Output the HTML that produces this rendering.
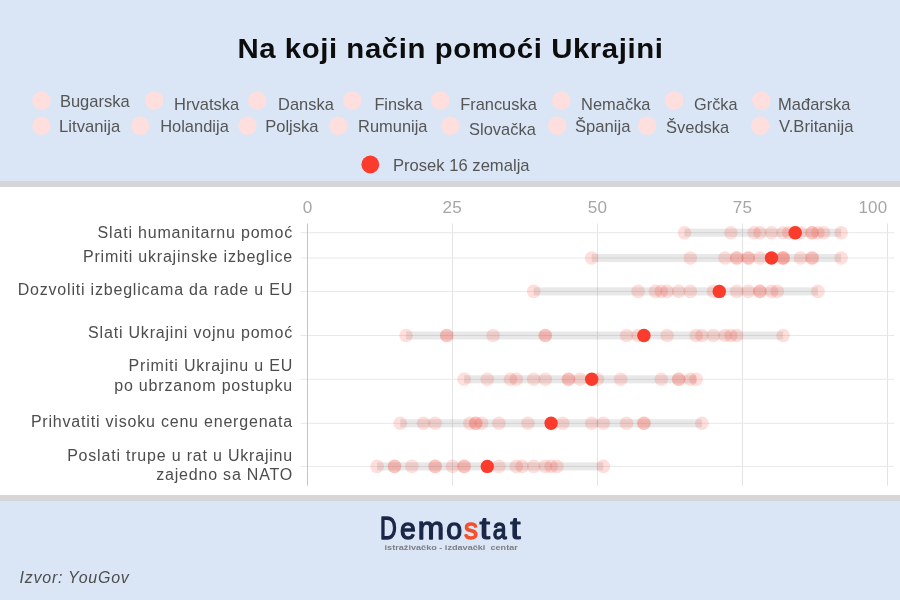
<!DOCTYPE html>
<html lang="sr"><head><meta charset="utf-8"><title>Na koji način pomoći Ukrajini</title>
<style>
html,body{margin:0;padding:0;background:#dae6f5;}
body{width:900px;height:600px;overflow:hidden;font-family:"Liberation Sans",sans-serif;}
svg{display:block}
text{font-family:"Liberation Sans",sans-serif;}
.lg{font-size:16.4px;fill:#555;}
.yl{font-size:16px;fill:#4d4d4d;letter-spacing:0.8px;text-anchor:end;}
.tk{font-size:16px;fill:#a6a6a6;text-anchor:middle;letter-spacing:0.3px;}
</style></head><body>
<svg width="900" height="600" viewBox="0 0 900 600">
<rect x="0" y="0" width="900" height="600" fill="#dae6f5"/>
<rect x="0" y="181" width="900" height="320" fill="#d6d6d6"/>
<rect x="0" y="187" width="900" height="308" fill="#ffffff"/>
<text transform="translate(237.4,58) scale(1.049,1)" font-size="28" font-weight="bold" fill="#0d0d0d" letter-spacing="0.54">Na koji način pomoći Ukrajini</text>
<circle cx="41.5" cy="100.5" r="9.2" fill="#fedfdd"/><text class="lg" x="59.9" y="107" textLength="69.8" lengthAdjust="spacingAndGlyphs">Bugarska</text>
<circle cx="154.2" cy="100.5" r="9.2" fill="#fedfdd"/><text class="lg" x="174.1" y="110" textLength="65.1" lengthAdjust="spacingAndGlyphs">Hrvatska</text>
<circle cx="257.3" cy="100.5" r="9.2" fill="#fedfdd"/><text class="lg" x="278.1" y="110" textLength="55.7" lengthAdjust="spacingAndGlyphs">Danska</text>
<circle cx="352.3" cy="100.5" r="9.2" fill="#fedfdd"/><text class="lg" x="374.4" y="110" textLength="48.1" lengthAdjust="spacingAndGlyphs">Finska</text>
<circle cx="440.3" cy="100.5" r="9.2" fill="#fedfdd"/><text class="lg" x="460.2" y="110" textLength="76.6" lengthAdjust="spacingAndGlyphs">Francuska</text>
<circle cx="561.3" cy="100.5" r="9.2" fill="#fedfdd"/><text class="lg" x="581.1" y="110" textLength="69.4" lengthAdjust="spacingAndGlyphs">Nemačka</text>
<circle cx="674.2" cy="100.5" r="9.2" fill="#fedfdd"/><text class="lg" x="694.1" y="110" textLength="43.4" lengthAdjust="spacingAndGlyphs">Grčka</text>
<circle cx="761.3" cy="100.5" r="9.2" fill="#fedfdd"/><text class="lg" x="778.1" y="110" textLength="72.4" lengthAdjust="spacingAndGlyphs">Mađarska</text>
<circle cx="41.5" cy="125.7" r="9.2" fill="#fedfdd"/><text class="lg" x="59.1" y="132" textLength="61.1" lengthAdjust="spacingAndGlyphs">Litvanija</text>
<circle cx="140.2" cy="125.7" r="9.2" fill="#fedfdd"/><text class="lg" x="160.2" y="132" textLength="68.6" lengthAdjust="spacingAndGlyphs">Holandija</text>
<circle cx="247.5" cy="125.7" r="9.2" fill="#fedfdd"/><text class="lg" x="265.2" y="132" textLength="53.3" lengthAdjust="spacingAndGlyphs">Poljska</text>
<circle cx="338.3" cy="125.7" r="9.2" fill="#fedfdd"/><text class="lg" x="358.1" y="132" textLength="69.4" lengthAdjust="spacingAndGlyphs">Rumunija</text>
<circle cx="450.3" cy="125.7" r="9.2" fill="#fedfdd"/><text class="lg" x="469.1" y="135" textLength="66.7" lengthAdjust="spacingAndGlyphs">Slovačka</text>
<circle cx="557.2" cy="125.7" r="9.2" fill="#fedfdd"/><text class="lg" x="574.9" y="132" textLength="55.6" lengthAdjust="spacingAndGlyphs">Španija</text>
<circle cx="647.2" cy="125.7" r="9.2" fill="#fedfdd"/><text class="lg" x="666.1" y="133" textLength="63.1" lengthAdjust="spacingAndGlyphs">Švedska</text>
<circle cx="760.3" cy="125.7" r="9.2" fill="#fedfdd"/><text class="lg" x="779.1" y="132" textLength="74.4" lengthAdjust="spacingAndGlyphs">V.Britanija</text>
<circle cx="370.3" cy="164.5" r="8.9" fill="#fb3b2b"/><text class="lg" x="392.9" y="171" textLength="136.7" lengthAdjust="spacingAndGlyphs">Prosek 16 zemalja</text>
<line x1="452.5" x2="452.5" y1="223.5" y2="485.7" stroke="#e4e4e4" stroke-width="1"/><line x1="597.5" x2="597.5" y1="223.5" y2="485.7" stroke="#e4e4e4" stroke-width="1"/><line x1="742.5" x2="742.5" y1="223.5" y2="485.7" stroke="#e4e4e4" stroke-width="1"/><line x1="887.5" x2="887.5" y1="223.5" y2="485.7" stroke="#e4e4e4" stroke-width="1"/><line x1="300.5" x2="894" y1="232.7" y2="232.7" stroke="#e8e8e8" stroke-width="1"/><line x1="300.5" x2="894" y1="258" y2="258" stroke="#e8e8e8" stroke-width="1"/><line x1="300.5" x2="894" y1="291.4" y2="291.4" stroke="#e8e8e8" stroke-width="1"/><line x1="300.5" x2="894" y1="335.5" y2="335.5" stroke="#e8e8e8" stroke-width="1"/><line x1="300.5" x2="894" y1="379.3" y2="379.3" stroke="#e8e8e8" stroke-width="1"/><line x1="300.5" x2="894" y1="423.3" y2="423.3" stroke="#e8e8e8" stroke-width="1"/><line x1="300.5" x2="894" y1="466.4" y2="466.4" stroke="#e8e8e8" stroke-width="1"/><line x1="307.5" x2="307.5" y1="223.5" y2="485.7" stroke="#c4c4c4" stroke-width="1"/>
<text class="tk" transform="translate(307.7,212.6) scale(1.07,1)">0</text><text class="tk" transform="translate(452.3,212.6) scale(1.07,1)">25</text><text class="tk" transform="translate(597.5,212.6) scale(1.07,1)">50</text><text class="tk" transform="translate(742.5,212.6) scale(1.07,1)">75</text><text class="tk" transform="translate(887.6,212.6) scale(1.06,1)" style="text-anchor:end">100</text>
<text class="yl" x="293.0" y="238">Slati humanitarnu pomoć</text>
<text class="yl" x="293.0" y="262">Primiti ukrajinske izbeglice</text>
<text class="yl" x="293.0" y="295">Dozvoliti izbeglicama da rade u EU</text>
<text class="yl" x="293.0" y="338">Slati Ukrajini vojnu pomoć</text>
<text class="yl" x="293.0" y="371">Primiti Ukrajinu u EU</text>
<text class="yl" x="293.0" y="391">po ubrzanom postupku</text>
<text class="yl" x="293.0" y="427">Prihvatiti visoku cenu energenata</text>
<text class="yl" x="293.0" y="461">Poslati trupe u rat u Ukrajinu</text>
<text class="yl" x="293.0" y="480">zajedno sa NATO</text>
<rect x="684.5" y="228.65" width="156.6" height="8.1" fill="#000" fill-opacity="0.09"/><circle cx="684.5" cy="232.7" r="6.8" fill="#f83c28" fill-opacity="0.165"/><circle cx="730.9" cy="232.7" r="6.8" fill="#f83c28" fill-opacity="0.165"/><circle cx="754.1" cy="232.7" r="6.8" fill="#f83c28" fill-opacity="0.165"/><circle cx="759.9" cy="232.7" r="6.8" fill="#f83c28" fill-opacity="0.165"/><circle cx="771.5" cy="232.7" r="6.8" fill="#f83c28" fill-opacity="0.165"/><circle cx="783.1" cy="232.7" r="6.8" fill="#f83c28" fill-opacity="0.165"/><circle cx="788.9" cy="232.7" r="6.8" fill="#f83c28" fill-opacity="0.165"/><circle cx="794.7" cy="232.7" r="6.8" fill="#f83c28" fill-opacity="0.165"/><circle cx="794.7" cy="232.7" r="6.8" fill="#f83c28" fill-opacity="0.165"/><circle cx="800.5" cy="232.7" r="6.8" fill="#f83c28" fill-opacity="0.165"/><circle cx="812.1" cy="232.7" r="6.8" fill="#f83c28" fill-opacity="0.165"/><circle cx="812.1" cy="232.7" r="6.8" fill="#f83c28" fill-opacity="0.165"/><circle cx="817.9" cy="232.7" r="6.8" fill="#f83c28" fill-opacity="0.165"/><circle cx="823.7" cy="232.7" r="6.8" fill="#f83c28" fill-opacity="0.165"/><circle cx="841.1" cy="232.7" r="6.8" fill="#f83c28" fill-opacity="0.165"/><circle cx="795.3" cy="232.7" r="6.7" fill="#fb3b2b"/>
<rect x="591.7" y="253.95" width="249.4" height="8.1" fill="#000" fill-opacity="0.09"/><circle cx="591.7" cy="258" r="6.8" fill="#f83c28" fill-opacity="0.165"/><circle cx="690.3" cy="258" r="6.8" fill="#f83c28" fill-opacity="0.165"/><circle cx="725.1" cy="258" r="6.8" fill="#f83c28" fill-opacity="0.165"/><circle cx="736.7" cy="258" r="6.8" fill="#f83c28" fill-opacity="0.165"/><circle cx="736.7" cy="258" r="6.8" fill="#f83c28" fill-opacity="0.165"/><circle cx="748.3" cy="258" r="6.8" fill="#f83c28" fill-opacity="0.165"/><circle cx="748.3" cy="258" r="6.8" fill="#f83c28" fill-opacity="0.165"/><circle cx="759.9" cy="258" r="6.8" fill="#f83c28" fill-opacity="0.165"/><circle cx="783.1" cy="258" r="6.8" fill="#f83c28" fill-opacity="0.165"/><circle cx="783.1" cy="258" r="6.8" fill="#f83c28" fill-opacity="0.165"/><circle cx="783.1" cy="258" r="6.8" fill="#f83c28" fill-opacity="0.165"/><circle cx="800.5" cy="258" r="6.8" fill="#f83c28" fill-opacity="0.165"/><circle cx="812.1" cy="258" r="6.8" fill="#f83c28" fill-opacity="0.165"/><circle cx="812.1" cy="258" r="6.8" fill="#f83c28" fill-opacity="0.165"/><circle cx="841.1" cy="258" r="6.8" fill="#f83c28" fill-opacity="0.165"/><circle cx="771.5" cy="258" r="6.7" fill="#fb3b2b"/>
<rect x="533.7" y="287.35" width="284.2" height="8.1" fill="#000" fill-opacity="0.09"/><circle cx="533.7" cy="291.4" r="6.8" fill="#f83c28" fill-opacity="0.165"/><circle cx="638.1" cy="291.4" r="6.8" fill="#f83c28" fill-opacity="0.165"/><circle cx="655.5" cy="291.4" r="6.8" fill="#f83c28" fill-opacity="0.165"/><circle cx="661.3" cy="291.4" r="6.8" fill="#f83c28" fill-opacity="0.165"/><circle cx="667.1" cy="291.4" r="6.8" fill="#f83c28" fill-opacity="0.165"/><circle cx="678.7" cy="291.4" r="6.8" fill="#f83c28" fill-opacity="0.165"/><circle cx="690.3" cy="291.4" r="6.8" fill="#f83c28" fill-opacity="0.165"/><circle cx="713.5" cy="291.4" r="6.8" fill="#f83c28" fill-opacity="0.165"/><circle cx="719.3" cy="291.4" r="6.8" fill="#f83c28" fill-opacity="0.165"/><circle cx="736.7" cy="291.4" r="6.8" fill="#f83c28" fill-opacity="0.165"/><circle cx="748.3" cy="291.4" r="6.8" fill="#f83c28" fill-opacity="0.165"/><circle cx="759.9" cy="291.4" r="6.8" fill="#f83c28" fill-opacity="0.165"/><circle cx="759.9" cy="291.4" r="6.8" fill="#f83c28" fill-opacity="0.165"/><circle cx="771.5" cy="291.4" r="6.8" fill="#f83c28" fill-opacity="0.165"/><circle cx="777.3" cy="291.4" r="6.8" fill="#f83c28" fill-opacity="0.165"/><circle cx="817.9" cy="291.4" r="6.8" fill="#f83c28" fill-opacity="0.165"/><circle cx="719.3" cy="291.4" r="6.7" fill="#fb3b2b"/>
<rect x="406.1" y="331.45" width="377.0" height="8.1" fill="#000" fill-opacity="0.09"/><circle cx="406.1" cy="335.5" r="6.8" fill="#f83c28" fill-opacity="0.165"/><circle cx="446.7" cy="335.5" r="6.8" fill="#f83c28" fill-opacity="0.165"/><circle cx="446.7" cy="335.5" r="6.8" fill="#f83c28" fill-opacity="0.165"/><circle cx="493.1" cy="335.5" r="6.8" fill="#f83c28" fill-opacity="0.165"/><circle cx="545.3" cy="335.5" r="6.8" fill="#f83c28" fill-opacity="0.165"/><circle cx="545.3" cy="335.5" r="6.8" fill="#f83c28" fill-opacity="0.165"/><circle cx="626.5" cy="335.5" r="6.8" fill="#f83c28" fill-opacity="0.165"/><circle cx="638.1" cy="335.5" r="6.8" fill="#f83c28" fill-opacity="0.165"/><circle cx="643.9" cy="335.5" r="6.8" fill="#f83c28" fill-opacity="0.165"/><circle cx="667.1" cy="335.5" r="6.8" fill="#f83c28" fill-opacity="0.165"/><circle cx="696.1" cy="335.5" r="6.8" fill="#f83c28" fill-opacity="0.165"/><circle cx="701.9" cy="335.5" r="6.8" fill="#f83c28" fill-opacity="0.165"/><circle cx="713.5" cy="335.5" r="6.8" fill="#f83c28" fill-opacity="0.165"/><circle cx="725.1" cy="335.5" r="6.8" fill="#f83c28" fill-opacity="0.165"/><circle cx="730.9" cy="335.5" r="6.8" fill="#f83c28" fill-opacity="0.165"/><circle cx="736.7" cy="335.5" r="6.8" fill="#f83c28" fill-opacity="0.165"/><circle cx="783.1" cy="335.5" r="6.8" fill="#f83c28" fill-opacity="0.165"/><circle cx="643.9" cy="335.5" r="6.7" fill="#fb3b2b"/>
<rect x="464.1" y="375.25" width="232.0" height="8.1" fill="#000" fill-opacity="0.09"/><circle cx="464.1" cy="379.3" r="6.8" fill="#f83c28" fill-opacity="0.165"/><circle cx="487.3" cy="379.3" r="6.8" fill="#f83c28" fill-opacity="0.165"/><circle cx="510.5" cy="379.3" r="6.8" fill="#f83c28" fill-opacity="0.165"/><circle cx="516.3" cy="379.3" r="6.8" fill="#f83c28" fill-opacity="0.165"/><circle cx="533.7" cy="379.3" r="6.8" fill="#f83c28" fill-opacity="0.165"/><circle cx="545.3" cy="379.3" r="6.8" fill="#f83c28" fill-opacity="0.165"/><circle cx="568.5" cy="379.3" r="6.8" fill="#f83c28" fill-opacity="0.165"/><circle cx="568.5" cy="379.3" r="6.8" fill="#f83c28" fill-opacity="0.165"/><circle cx="580.1" cy="379.3" r="6.8" fill="#f83c28" fill-opacity="0.165"/><circle cx="597.5" cy="379.3" r="6.8" fill="#f83c28" fill-opacity="0.165"/><circle cx="620.7" cy="379.3" r="6.8" fill="#f83c28" fill-opacity="0.165"/><circle cx="661.3" cy="379.3" r="6.8" fill="#f83c28" fill-opacity="0.165"/><circle cx="678.7" cy="379.3" r="6.8" fill="#f83c28" fill-opacity="0.165"/><circle cx="678.7" cy="379.3" r="6.8" fill="#f83c28" fill-opacity="0.165"/><circle cx="690.3" cy="379.3" r="6.8" fill="#f83c28" fill-opacity="0.165"/><circle cx="696.1" cy="379.3" r="6.8" fill="#f83c28" fill-opacity="0.165"/><circle cx="591.7" cy="379.3" r="6.7" fill="#fb3b2b"/>
<rect x="400.3" y="419.25" width="301.6" height="8.1" fill="#000" fill-opacity="0.09"/><circle cx="400.3" cy="423.3" r="6.8" fill="#f83c28" fill-opacity="0.165"/><circle cx="423.5" cy="423.3" r="6.8" fill="#f83c28" fill-opacity="0.165"/><circle cx="435.1" cy="423.3" r="6.8" fill="#f83c28" fill-opacity="0.165"/><circle cx="469.9" cy="423.3" r="6.8" fill="#f83c28" fill-opacity="0.165"/><circle cx="475.7" cy="423.3" r="6.8" fill="#f83c28" fill-opacity="0.165"/><circle cx="475.7" cy="423.3" r="6.8" fill="#f83c28" fill-opacity="0.165"/><circle cx="481.5" cy="423.3" r="6.8" fill="#f83c28" fill-opacity="0.165"/><circle cx="498.9" cy="423.3" r="6.8" fill="#f83c28" fill-opacity="0.165"/><circle cx="527.9" cy="423.3" r="6.8" fill="#f83c28" fill-opacity="0.165"/><circle cx="562.7" cy="423.3" r="6.8" fill="#f83c28" fill-opacity="0.165"/><circle cx="591.7" cy="423.3" r="6.8" fill="#f83c28" fill-opacity="0.165"/><circle cx="603.3" cy="423.3" r="6.8" fill="#f83c28" fill-opacity="0.165"/><circle cx="626.5" cy="423.3" r="6.8" fill="#f83c28" fill-opacity="0.165"/><circle cx="643.9" cy="423.3" r="6.8" fill="#f83c28" fill-opacity="0.165"/><circle cx="643.9" cy="423.3" r="6.8" fill="#f83c28" fill-opacity="0.165"/><circle cx="701.9" cy="423.3" r="6.8" fill="#f83c28" fill-opacity="0.165"/><circle cx="551.1" cy="423.3" r="6.7" fill="#fb3b2b"/>
<rect x="377.1" y="462.35" width="226.2" height="8.1" fill="#000" fill-opacity="0.09"/><circle cx="377.1" cy="466.4" r="6.8" fill="#f83c28" fill-opacity="0.165"/><circle cx="394.5" cy="466.4" r="6.8" fill="#f83c28" fill-opacity="0.165"/><circle cx="394.5" cy="466.4" r="6.8" fill="#f83c28" fill-opacity="0.165"/><circle cx="411.9" cy="466.4" r="6.8" fill="#f83c28" fill-opacity="0.165"/><circle cx="435.1" cy="466.4" r="6.8" fill="#f83c28" fill-opacity="0.165"/><circle cx="435.1" cy="466.4" r="6.8" fill="#f83c28" fill-opacity="0.165"/><circle cx="452.5" cy="466.4" r="6.8" fill="#f83c28" fill-opacity="0.165"/><circle cx="464.1" cy="466.4" r="6.8" fill="#f83c28" fill-opacity="0.165"/><circle cx="464.1" cy="466.4" r="6.8" fill="#f83c28" fill-opacity="0.165"/><circle cx="498.9" cy="466.4" r="6.8" fill="#f83c28" fill-opacity="0.165"/><circle cx="516.3" cy="466.4" r="6.8" fill="#f83c28" fill-opacity="0.165"/><circle cx="522.1" cy="466.4" r="6.8" fill="#f83c28" fill-opacity="0.165"/><circle cx="533.7" cy="466.4" r="6.8" fill="#f83c28" fill-opacity="0.165"/><circle cx="545.3" cy="466.4" r="6.8" fill="#f83c28" fill-opacity="0.165"/><circle cx="551.1" cy="466.4" r="6.8" fill="#f83c28" fill-opacity="0.165"/><circle cx="556.9" cy="466.4" r="6.8" fill="#f83c28" fill-opacity="0.165"/><circle cx="603.3" cy="466.4" r="6.8" fill="#f83c28" fill-opacity="0.165"/><circle cx="487.3" cy="466.4" r="6.7" fill="#fb3b2b"/>
<g aria-label="Demostat" font-size="100" stroke-width="1.3" stroke-linejoin="round"><text transform="matrix(0.2317 0 0 0.3130 380.00 539.35)" fill="#1a2747" stroke="#1a2747" vector-effect="non-scaling-stroke">D</text><text transform="matrix(0.2833 0 0 0.3036 399.92 539.25)" fill="#1a2747" stroke="#1a2747" vector-effect="non-scaling-stroke">e</text><text transform="matrix(0.3169 0 0 0.3056 417.65 539.35)" fill="#1a2747" stroke="#1a2747" vector-effect="non-scaling-stroke">m</text><text transform="matrix(0.2854 0 0 0.3036 446.21 539.25)" fill="#1a2747" stroke="#1a2747" vector-effect="non-scaling-stroke">o</text><text transform="matrix(0.2800 0 0 0.3036 463.89 539.25)" fill="#f4502e" stroke="#f4502e" vector-effect="non-scaling-stroke">s</text><text transform="matrix(0.3778 0 0 0.3167 479.57 539.23)" fill="#1a2747" stroke="#1a2747" vector-effect="non-scaling-stroke">t</text><text transform="matrix(0.2481 0 0 0.3036 492.76 539.25)" fill="#1a2747" stroke="#1a2747" vector-effect="non-scaling-stroke">a</text><text transform="matrix(0.3704 0 0 0.3167 510.28 539.23)" fill="#1a2747" stroke="#1a2747" vector-effect="non-scaling-stroke">t</text></g>
<text x="384.6" y="549.6" font-size="8" font-weight="bold" fill="#7d7d84" textLength="133.2" lengthAdjust="spacingAndGlyphs" xml:space="preserve">istraživačko - izdavački  centar</text>
<text x="19.6" y="582.8" font-size="16" font-style="italic" fill="#4d4d4d" letter-spacing="0.75">Izvor: YouGov</text>
</svg></body></html>
